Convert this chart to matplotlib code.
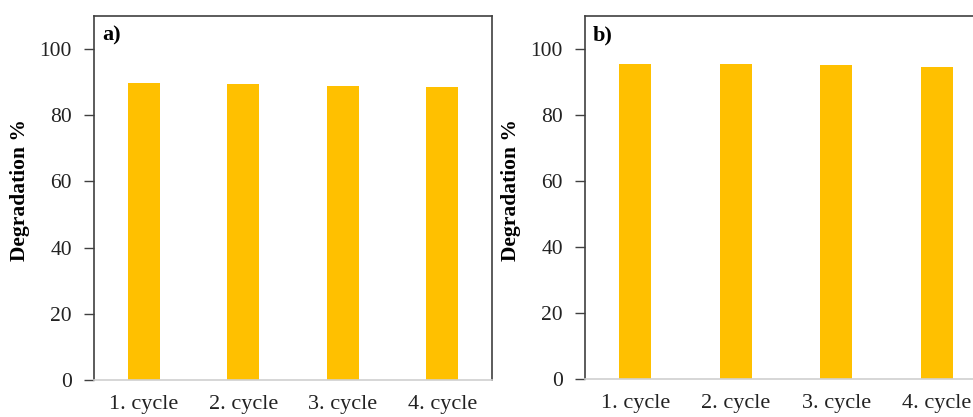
import matplotlib.pyplot as plt

# -----------------------------
# Data
# -----------------------------
cycles = ["1. cycle", "2. cycle", "3. cycle", "4. cycle"]
deg_a = [89.8, 89.3, 88.8, 88.4]
deg_b = [95.6, 95.6, 95.1, 94.6]
panel_tags = ["a)", "b)"]

plt.rcParams['font.family'] = ['Liberation Serif', 'DejaVu Serif']

W, H = 973, 417
fig = plt.figure(figsize=(W / 100, H / 100), dpi=100)

# axes boxes in pixels: left, top, right, bottom
boxes = [(94, 16, 492, 380), (585, 16, 987, 379)]

for (l, t, r, b), vals, tag in zip(boxes, [deg_a, deg_b], panel_tags):
    ax = fig.add_axes([l / W, 1 - b / H, (r - l) / W, (b - t) / H])
    ax.bar(range(len(cycles)), vals, width=0.32, color='#FFC000', zorder=2)
    ax.set_xlim(-0.5, 3.5)
    ax.set_ylim(0, 110)
    ax.set_yticks([0, 20, 40, 60, 80, 100])
    ax.set_xticks(range(len(cycles)))
    ax.set_xticklabels(cycles)
    ax.tick_params(axis='y', direction='out', length=7, width=1, color='#404040',
                   labelsize=15.5, pad=9, labelcolor='#222222')
    ax.tick_params(axis='x', length=0, labelsize=16, pad=11, labelcolor='#222222')
    for side in ['top', 'right', 'left']:
        ax.spines[side].set_color('#404040')
        ax.spines[side].set_linewidth(1.2)
    ax.spines['bottom'].set_color('#d0d0d0')
    ax.spines['bottom'].set_linewidth(1.2)
    # y label placed by pixel, centred a bit above the axes middle
    fig.text((l - 74) / W, 1 - 190 / H, 'Degradation %', rotation=90,
             fontsize=15.5, fontweight='bold', ha='center', va='center')
    ax.text(0.02, 0.975, tag, transform=ax.transAxes, fontsize=16,
            fontweight='bold', va='top', ha='left')

fig.savefig('out.png', dpi=100)
